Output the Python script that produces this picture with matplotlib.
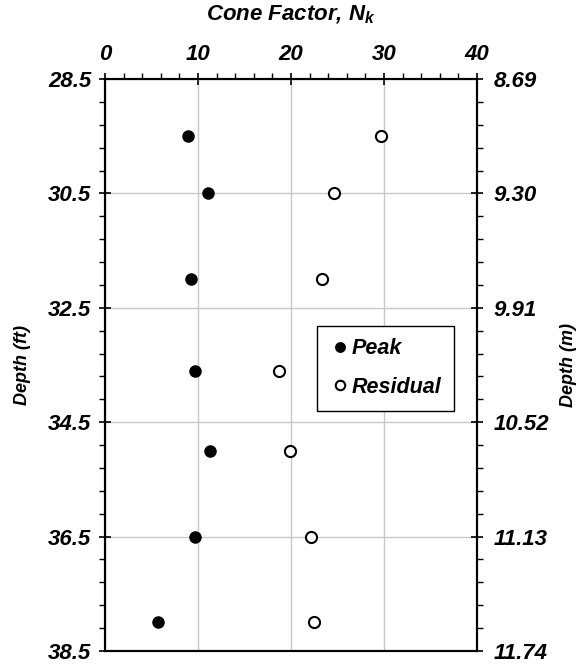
import matplotlib
matplotlib.use("Agg")
import matplotlib.pyplot as plt
import numpy as np
from matplotlib.ticker import MultipleLocator, FixedLocator

plt.rcParams['font.family'] = ['Liberation Sans', 'DejaVu Sans']
plt.rcParams['font.weight'] = 'bold'
plt.rcParams['font.style'] = 'italic'
plt.rcParams['axes.labelweight'] = 'bold'
plt.rcParams['mathtext.fontset'] = 'custom'
plt.rcParams['mathtext.it'] = 'Liberation Sans:italic:bold'
plt.rcParams['mathtext.rm'] = 'Liberation Sans:italic:bold'

# data
depth_ft = [29.5, 30.5, 32.0, 33.6, 35.0, 36.5, 38.0]
nk_peak = [8.96, 11.12, 9.21, 9.69, 11.28, 9.69, 5.66]
nk_residual = [29.7, 24.64, 23.33, 18.66, 19.94, 22.2, 22.45]

x_ticks = [0, 10, 20, 30, 40]
depth_ticks = [28.5, 30.5, 32.5, 34.5, 36.5, 38.5]
depth_m_labels = ["%.2f" % (d / 3.28) for d in depth_ticks]

fig = plt.figure(figsize=(5.8, 6.64), dpi=100)
ax = fig.add_axes([105 / 580, 1 - 651 / 664, 372 / 580, 572 / 664])

ax.plot(nk_peak, depth_ft, 'o', color='black', markersize=8, label='Peak', zorder=3)
ax.plot(nk_residual, depth_ft, 'o', markerfacecolor='white', markeredgecolor='black',
        markeredgewidth=1.5, markersize=8, label='Residual', zorder=3)

ax.set_xlim(0, 40)
ax.set_ylim(38.5, 28.5)
ax.xaxis.tick_top()
ax.xaxis.set_label_position('top')
ax.set_xticks(x_ticks)
ax.xaxis.set_minor_locator(MultipleLocator(2))
ax.set_yticks(depth_ticks)
ax.set_yticklabels(["%.1f" % d for d in depth_ticks])
ax.yaxis.set_minor_locator(FixedLocator(np.arange(28.5, 38.51, 0.4)))

ax.grid(True, which='major', color='#c8c8c8', linewidth=1)
ax.set_axisbelow(True)

ax.tick_params(which='major', direction='inout', length=8, width=1.2, labelsize=16, pad=6)
ax.tick_params(which='minor', direction='out', length=4, width=1)
ax.tick_params(axis='x', bottom=False, which='both')
for s in ax.spines.values():
    s.set_linewidth(1.5)

ax.set_xlabel('Cone Factor, N$_k$', fontsize=16, labelpad=17)
ax.set_ylabel('Depth (ft)', fontsize=13, labelpad=12)

ax2 = ax.twinx()
ax2.set_ylim(38.5, 28.5)
ax2.set_yticks(depth_ticks)
ax2.set_yticklabels(depth_m_labels)
ax2.yaxis.set_minor_locator(FixedLocator(np.arange(28.5, 38.51, 0.4)))
ax2.tick_params(which='major', direction='inout', length=8, width=1.2, labelsize=16, pad=8)
ax2.tick_params(which='minor', direction='out', length=4, width=1)
ax2.set_ylabel('Depth (m)', fontsize=13, labelpad=8)
for s in ax2.spines.values():
    s.set_linewidth(1.5)

leg = ax.legend(loc='upper right', bbox_to_anchor=(0.939, 0.569), borderaxespad=0,
                fontsize=15.5, fancybox=False, framealpha=1, edgecolor='black',
                handletextpad=0.1, handlelength=0.9, markerscale=0.85,
                labelspacing=0.8, borderpad=0.6)
leg.get_frame().set_linewidth(1)

fig.savefig('out.png', dpi=100)
